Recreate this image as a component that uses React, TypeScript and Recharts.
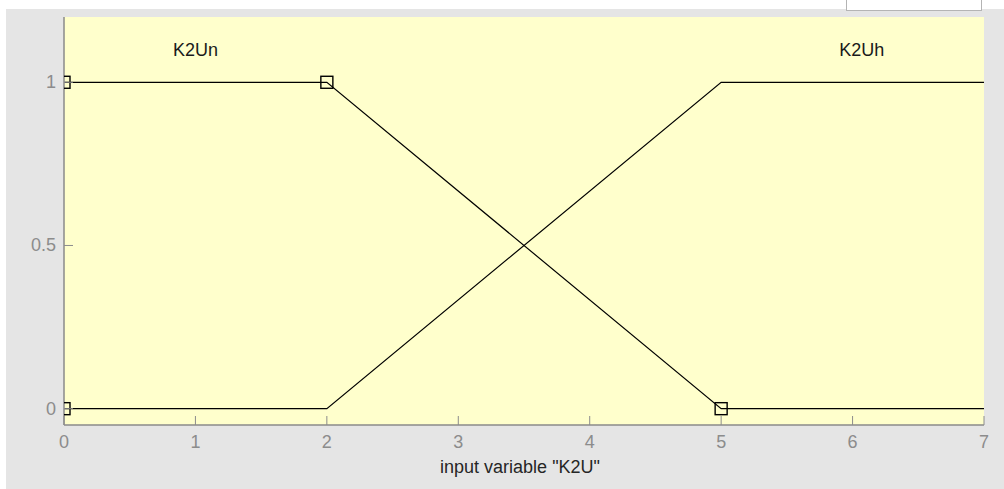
import React from 'react';
import { ComposedChart, Line, Scatter, XAxis, YAxis, CartesianGrid } from 'recharts';

// Membership function K2Un (trapezoid) points
const k2unX = [0, 2, 5, 7];
const k2unY = [1, 1, 0, 0];
// Membership function K2Uh
const k2uhX = [0, 2, 5, 7];
const k2uhY = [0, 0, 1, 1];
// Selected MF vertex markers (K2Un parameters)
const markerX = [0, 0, 2, 5];
const markerY = [0, 1, 1, 0];
// MF name labels
const mfNames = ['K2Un', 'K2Uh'];
const mfLabelX = [1, 6.07];
const mfLabelY = [1.1, 1.1];

const xTicks = [0, 1, 2, 3, 4, 5, 6, 7];
const yTicks = [0, 0.5, 1];
const xDomain = [0, 7];
const yDomain = [-0.05, 1.2];
const xLabel = 'input variable "K2U"';

const k2unData = k2unX.map((x, i) => ({ x, y: k2unY[i] }));
const k2uhData = k2uhX.map((x, i) => ({ x, y: k2uhY[i] }));
const markerData = markerX.map((x, i) => ({ x, y: markerY[i] }));
const labelData = mfNames.map((name, i) => ({ x: mfLabelX[i], y: mfLabelY[i], name }));

const FONT = '"Liberation Sans", Arial, sans-serif';
const TICK_COLOR = '#8c8c8c';
const TICK_LEN = 9;

const BottomTick = (props: any) => {
  const { x, y, payload } = props;
  return (
    <g>
      <line x1={x} y1={y} x2={x} y2={y - TICK_LEN} stroke={TICK_COLOR} strokeWidth={1} />
      <text x={x} y={y + 23} textAnchor="middle" fontSize={18} fontFamily={FONT} fill={TICK_COLOR}>
        {payload.value}
      </text>
    </g>
  );
};

const TopTick = (props: any) => {
  const { x, y } = props;
  return <line x1={x} y1={y} x2={x} y2={y + TICK_LEN} stroke={TICK_COLOR} strokeWidth={1} />;
};

const LeftTick = (props: any) => {
  const { x, y, payload } = props;
  return (
    <g>
      <line x1={x} y1={y} x2={x + TICK_LEN} y2={y} stroke={TICK_COLOR} strokeWidth={1} />
      <text x={x - 8} y={y + 6} textAnchor="end" fontSize={18} fontFamily={FONT} fill={TICK_COLOR}>
        {payload.value}
      </text>
    </g>
  );
};

const RightTick = (props: any) => {
  const { x, y } = props;
  return <line x1={x} y1={y} x2={x - TICK_LEN} y2={y} stroke={TICK_COLOR} strokeWidth={1} />;
};

const SquareMarker = (props: any) => {
  const { cx, cy } = props;
  const s = 12;
  return (
    <rect x={cx - s / 2} y={cy - s / 2} width={s} height={s} fill="none" stroke="#000" strokeWidth={1.4} />
  );
};

const NameLabel = (props: any) => {
  const { cx, cy, payload } = props;
  return (
    <text x={cx} y={cy + 6.5} textAnchor="middle" fontSize={18} fontFamily={FONT} fill="#1a1a1a">
      {payload.name}
    </text>
  );
};

const XLabel = (props: any) => {
  const { viewBox } = props;
  return (
    <text
      x={viewBox.x + viewBox.width / 2 - 4}
      y={viewBox.y + 48}
      textAnchor="middle"
      fontSize={18}
      fontFamily={FONT}
      fill="#262626"
    >
      {xLabel}
    </text>
  );
};

export default function App() {
  return (
    <div style={{ position: 'absolute', left: 0, top: 0, width: 1004, height: 489, background: '#ffffff', overflow: 'hidden' }}>
      <div style={{ position: 'absolute', left: 6, top: 9, width: 998, height: 480, background: '#e5e5e5' }} />
      <div
        style={{
          position: 'absolute',
          left: 846,
          top: -2,
          width: 134,
          height: 11,
          background: '#ffffff',
          border: '1px solid #b4b4b4',
        }}
      />
      <div style={{ position: 'absolute', left: 0, top: 0 }}>
        <ComposedChart
          width={1004}
          height={489}
          margin={{ top: 17, right: 20, bottom: 0, left: 0 }}
        >
          <CartesianGrid horizontal={false} vertical={false} fill="#ffffcc" stroke="none" />
          <XAxis
            type="number"
            dataKey="x"
            domain={xDomain}
            ticks={xTicks}
            allowDataOverflow
            height={64}
            tickSize={0}
            tickMargin={0}
            tickLine={false}
            axisLine={{ stroke: '#8a8a8a', strokeWidth: 1.5 }}
            tick={<BottomTick />}
            label={<XLabel />}
            interval={0}
          />
          <XAxis
            xAxisId="top"
            orientation="top"
            type="number"
            dataKey="x"
            domain={xDomain}
            ticks={xTicks}
            allowDataOverflow
            height={0}
            tickSize={0}
            tickMargin={0}
            tickLine={false}
            axisLine={{ stroke: '#8a8a8a', strokeWidth: 1.5 }}
            tick={<TopTick />}
            interval={0}
          />
          <YAxis
            type="number"
            dataKey="y"
            domain={yDomain}
            ticks={yTicks}
            allowDataOverflow
            width={64}
            tickSize={0}
            tickMargin={0}
            tickLine={false}
            axisLine={{ stroke: '#8a8a8a', strokeWidth: 1.5 }}
            tick={<LeftTick />}
            interval={0}
          />
          <YAxis
            yAxisId="right"
            orientation="right"
            type="number"
            dataKey="y"
            domain={yDomain}
            ticks={yTicks}
            allowDataOverflow
            width={0}
            tickSize={0}
            tickMargin={0}
            tickLine={false}
            axisLine={{ stroke: '#8a8a8a', strokeWidth: 1.5 }}
            tick={<RightTick />}
            interval={0}
          />
          <Line
            data={k2unData}
            dataKey="y"
            type="linear"
            stroke="#000"
            strokeWidth={1.2}
            dot={false}
            activeDot={false}
            isAnimationActive={false}
          />
          <Line
            data={k2uhData}
            dataKey="y"
            type="linear"
            stroke="#000"
            strokeWidth={1.2}
            dot={false}
            activeDot={false}
            isAnimationActive={false}
          />
          <Scatter data={markerData} dataKey="y" shape={<SquareMarker />} isAnimationActive={false} />
          <Scatter data={labelData} dataKey="y" shape={<NameLabel />} isAnimationActive={false} />
        </ComposedChart>
      </div>
    </div>
  );
}
